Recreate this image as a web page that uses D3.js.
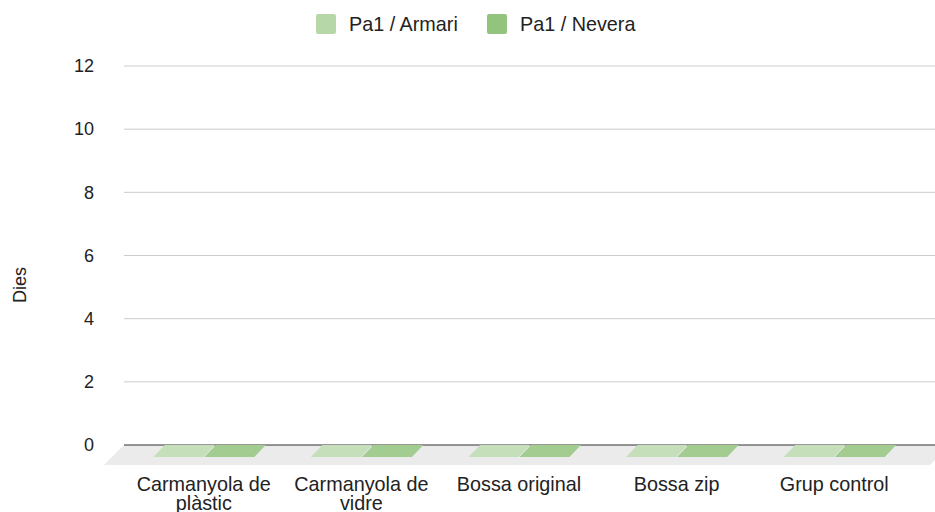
<!DOCTYPE html>
<html>
<head>
<meta charset="utf-8">
<script src="https://cdn.jsdelivr.net/npm/d3@7"></script>
<style>
  body { margin: 0; background: #fff; }
  svg { display: block; font-family: "Liberation Sans", Arial, sans-serif; }
</style>
</head>
<body>
<svg id="chart" width="935" height="512"></svg>
<script>
// data
const categories = [["Carmanyola de", "plàstic"], ["Carmanyola de", "vidre"], ["Bossa original"], ["Bossa zip"], ["Grup control"]];
const seriesNames = ["Pa1 / Armari", "Pa1 / Nevera"];
const armari = [0, 0, 0, 0, 0];
const nevera = [0, 0, 0, 0, 0];
const yTicks = [0, 2, 4, 6, 8, 10, 12];

const legendColors = ["#b6d7a8", "#93c47d"];
const topColors = ["#c4dfb9", "#a3cd90"];

const svg = d3.select("#chart");
const width = 935;

// front-plane category scale, back plane shifted by depth
const x = d3.scaleBand()
  .domain(d3.range(categories.length))
  .range([125, 913]);

const y = d3.scaleLinear()
  .domain([0, 12])
  .range([445, 66]);

const floorDx = 20, floorDy = 20;
const barDx = 11.5, barDy = 12;

// gridlines (back plane)
svg.append("g")
  .selectAll("line")
  .data(yTicks.filter(d => d !== 0))
  .enter()
  .append("line")
  .attr("x1", 124)
  .attr("x2", width)
  .attr("y1", d => y(d))
  .attr("y2", d => y(d))
  .attr("stroke", "#cccccc")
  .attr("stroke-width", 1);

// floor
svg.append("polygon")
  .attr("points", [
    [124, y(0)], [width + 15, y(0)],
    [width + 15 - floorDx, y(0) + floorDy], [124 - floorDx, y(0) + floorDy]
  ].join(" "))
  .attr("fill", "#ebebeb");

// baseline
svg.append("line")
  .attr("x1", 124)
  .attr("x2", width)
  .attr("y1", y(0))
  .attr("y2", y(0))
  .attr("stroke", "#333333")
  .attr("stroke-width", 1.2);

// tick labels
svg.append("g")
  .selectAll("text")
  .data(yTicks)
  .enter()
  .append("text")
  .attr("x", 94)
  .attr("y", d => y(d))
  .attr("dy", "0.35em")
  .attr("text-anchor", "end")
  .attr("font-size", 18)
  .attr("fill", "#222")
  .text(d => d);

// axis title
svg.append("text")
  .attr("transform", "translate(26,285) rotate(-90)")
  .attr("text-anchor", "middle")
  .attr("font-size", 18)
  .attr("fill", "#222")
  .text("Dies");

// bars
const x1 = d3.scaleBand()
  .domain(seriesNames)
  .range([-50.5, 50.5])
  .paddingInner(0.02);

const barData = [];
categories.forEach((c, i) => {
  barData.push({ cat: i, s: seriesNames[0], v: armari[i], k: 0 });
  barData.push({ cat: i, s: seriesNames[1], v: nevera[i], k: 1 });
});

const bars = svg.append("g")
  .selectAll("g")
  .data(barData)
  .enter()
  .append("g");

function frontLeft(d) { return x(d.cat) + x.bandwidth() / 2 + x1(d.s); }

// front face
bars.append("rect")
  .attr("x", d => frontLeft(d))
  .attr("y", d => y(d.v) + barDy)
  .attr("width", x1.bandwidth())
  .attr("height", d => y(0) - y(d.v))
  .attr("fill", d => legendColors[d.k]);

// top face
bars.append("polygon")
  .attr("points", d => {
    const x0 = frontLeft(d), w = x1.bandwidth(), yt = y(d.v) + barDy;
    return [[x0, yt], [x0 + w, yt], [x0 + w + barDx, yt - barDy], [x0 + barDx, yt - barDy]].join(" ");
  })
  .attr("fill", d => topColors[d.k]);

// category labels
const labels = svg.append("g")
  .selectAll("text")
  .data(categories)
  .enter()
  .append("text")
  .attr("x", (d, i) => x(i) + x.bandwidth() / 2)
  .attr("y", 491)
  .attr("text-anchor", "middle")
  .attr("font-size", 19.8)
  .attr("fill", "#222");

labels.selectAll("tspan")
  .data(d => d)
  .enter()
  .append("tspan")
  .attr("x", function () { return d3.select(this.parentNode).attr("x"); })
  .attr("dy", (d, i) => i === 0 ? 0 : 19)
  .text(d => d);

// legend
const legendX = [316, 487];
const legend = svg.append("g")
  .selectAll("g")
  .data(seriesNames)
  .enter()
  .append("g")
  .attr("transform", (d, i) => `translate(${legendX[i]},14)`);

legend.append("rect")
  .attr("width", 20)
  .attr("height", 20)
  .attr("rx", 2)
  .attr("fill", (d, i) => legendColors[i]);

legend.append("text")
  .attr("x", 33)
  .attr("y", 17)
  .attr("font-size", 19.8)
  .attr("fill", "#222")
  .text(d => d);
</script>
</body>
</html>
